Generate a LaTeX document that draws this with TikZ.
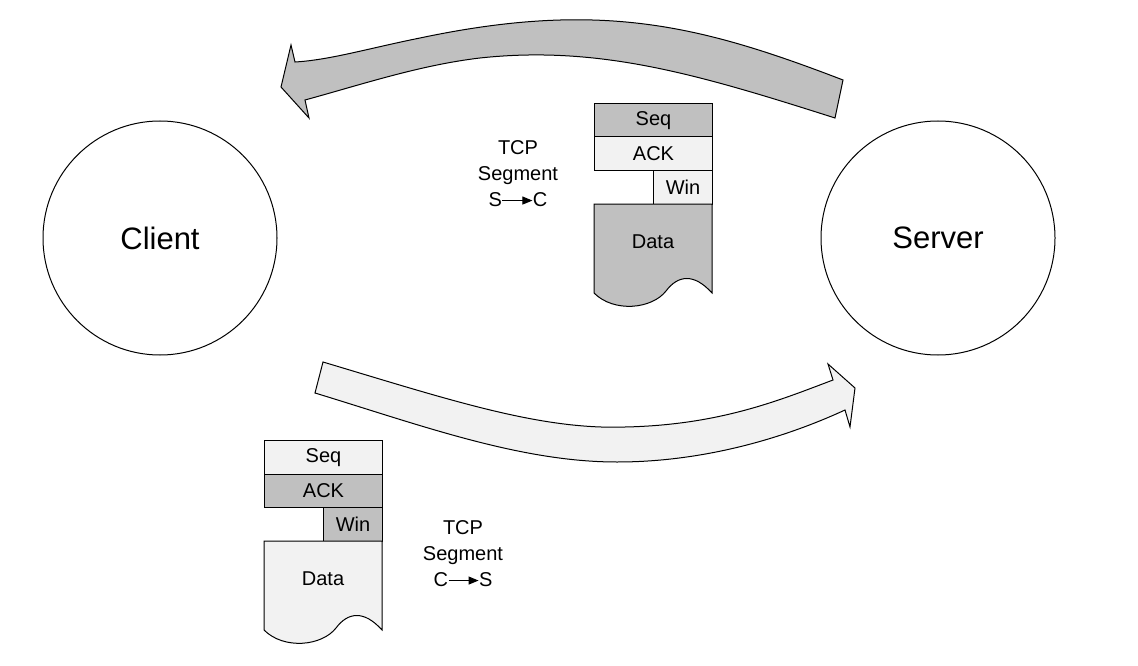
\documentclass[tikz,border=0pt]{standalone}
\usepackage{fontspec}
\setmainfont{Liberation Sans}
\usetikzlibrary{arrows.meta}
\definecolor{segdark}{HTML}{C0C0C0}
\definecolor{seglight}{HTML}{F2F2F2}
\begin{document}
\begin{tikzpicture}[x=1pt,y=-1pt,line width=1pt,
host/.style={%
draw,
circle,
minimum size=234pt,
font=\fontsize{31}{33}\selectfont
},
field/.style={%
draw,
anchor=north west,
inner sep=0pt,
minimum height=33.5pt,
font=\fontsize{20}{22}\selectfont
},
caption/.style={%
align=center,
font=\fontsize{20}{26}\selectfont
},
flow/.style={%
draw,
line join=miter
},
pics/tcpseg/.style n args={2}{code={%
\node[field,fill=#1,minimum width=118pt]at(0,0)(-seq){Seq};
\node[field,fill=#2,minimum width=118pt]at(0,33.5)(-ack){ACK};
\node[field,fill=#2,minimum width=59pt]at(59,67){Win};
\fill[fill=#1,draw](0,101)--(118,101)--(118,190)
 .. controls (100,170) and (84,172) .. (72,188)
 .. controls (58,206) and (20,210) .. (0,190)--cycle;
\node[font=\fontsize{20}{22}\selectfont]at(59,139)(-data){Data};
}},
]
\useasboundingbox(0,0)rectangle(1138,666);
\newcommand{\dirarrow}{\tikz[baseline=-0.6ex]\draw[line width=1pt,-{Triangle[length=10pt,width=8pt]}](0,0)--(30pt,0);}
% hosts
\node[host]at(160,238)(client){Client};
\node[host]at(938,238)(server){Server};
% server to client
\draw[flow,fill=segdark](843,80)
 .. controls (700,25) and (600,0) .. (420,38)
 .. controls (370,48) and (330,60) .. (295,62)
 --(291,45)--(281,87)--(309,118)--(305,100)
 .. controls (360,85) and (420,65) .. (480,58)
 .. controls (600,45) and (700,75) .. (835,118)--cycle;
\pic at(594,103){tcpseg={segdark}{seglight}};
\node[caption]at(518,174)(sc){TCP\\Segment\\S\dirarrow C};
% client to server
\draw[flow,fill=seglight](323,362)
 .. controls (450,400) and (540,430) .. (625,427)
 .. controls (720,425) and (780,400) .. (833,380)
 --(828,364)--(855,388)--(850,427)--(845,410)
 .. controls (780,440) and (700,462) .. (617,462)
 .. controls (520,462) and (420,425) .. (315,393)--cycle;
\pic at(264,440){tcpseg={seglight}{segdark}};
\node[caption]at(463,554)(cs){TCP\\Segment\\C\dirarrow S};
\end{tikzpicture}
\end{document}
